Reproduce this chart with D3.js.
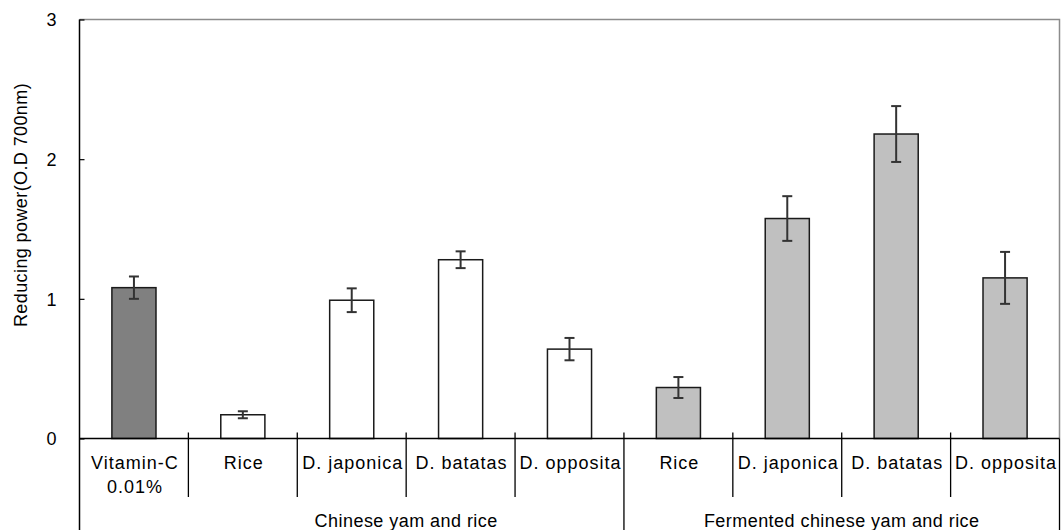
<!DOCTYPE html>
<html>
<head>
<meta charset="utf-8">
<script src="https://cdn.jsdelivr.net/npm/d3@7"></script>
<style>
  body { margin: 0; background: #fff; }
  svg { display: block; font-family: Arial, "Liberation Sans", sans-serif; }
</style>
</head>
<body>
<div id="chart"></div>
<script>
// data
var categories = ['Vitamin-C', 'Rice', 'D. japonica', 'D. batatas', 'D. opposita',
                  'F Rice', 'F D. japonica', 'F D. batatas', 'F D. opposita'];
var catLabels = [['Vitamin-C', '0.01%'], ['Rice'], ['D. japonica'], ['D. batatas'], ['D. opposita'],
                 ['Rice'], ['D. japonica'], ['D. batatas'], ['D. opposita']];
var values = [1.08, 0.17, 0.99, 1.28, 0.64, 0.365, 1.575, 2.18, 1.15];
var errors = [0.08, 0.025, 0.085, 0.06, 0.08, 0.075, 0.16, 0.2, 0.186];
var groups = ['control', 'plain', 'plain', 'plain', 'plain', 'ferm', 'ferm', 'ferm', 'ferm'];
var groupLabels = [
    { name: 'Chinese yam and rice', from: 1, to: 5 },
    { name: 'Fermented chinese yam and rice', from: 5, to: 9 }
];
var yTicks = [0, 1, 2, 3];

var width = 1061, height = 530;
var plotLeft = 79.5, plotRight = 1059.5, plotTop = 19.5, zeroY = 438.5;

var fills = { control: '#808080', plain: '#ffffff', ferm: '#c0c0c0' };

var svg = d3.select('#chart').append('svg')
    .attr('width', width)
    .attr('height', height);

var x = d3.scaleBand()
    .domain(categories)
    .range([plotLeft, plotRight])
    .paddingInner(0.595)
    .paddingOuter(0.2975);

var y = d3.scaleLinear()
    .domain([0, 3])
    .range([zeroY, plotTop]);

var step = x.step();
function edge(i) { return plotLeft + step * i; }

// plot area border (grey)
svg.append('path')
    .attr('d', 'M' + plotLeft + ',' + plotTop + 'H' + plotRight + 'V' + zeroY)
    .attr('fill', 'none')
    .attr('stroke', '#8c8c8c')
    .attr('stroke-width', 1.5);

// y axis
var yAxis = d3.axisLeft(y)
    .tickValues(yTicks)
    .tickSize(-5)
    .tickPadding(23)
    .tickFormat(d3.format('d'));

var gy = svg.append('g')
    .attr('transform', 'translate(' + plotLeft + ',0)')
    .call(yAxis);
gy.select('.domain').remove();
gy.selectAll('.tick line').attr('stroke', '#000').attr('stroke-width', 1.2);
gy.selectAll('.tick text')
    .attr('font-size', 18)
    .attr('fill', '#000')
    .attr('dy', '0.36em');

// left axis line runs to the bottom
svg.append('line')
    .attr('x1', plotLeft).attr('x2', plotLeft)
    .attr('y1', plotTop).attr('y2', height)
    .attr('stroke', '#000').attr('stroke-width', 1.5);

svg.append('text')
    .attr('transform', 'translate(27,205) rotate(-90)')
    .attr('text-anchor', 'middle')
    .attr('font-size', 18)
    .attr('letter-spacing', '0.4px')
    .text('Reducing power(O.D 700nm)');

// bars
svg.selectAll('rect.bar')
    .data(categories)
    .enter()
    .append('rect')
    .attr('class', 'bar')
    .attr('x', function (d) { return x(d); })
    .attr('y', function (d, i) { return y(values[i]); })
    .attr('width', x.bandwidth())
    .attr('height', function (d, i) { return y(0) - y(values[i]); })
    .attr('fill', function (d, i) { return fills[groups[i]]; })
    .attr('stroke', '#1a1a1a')
    .attr('stroke-width', 1.5);

// error bars
var err = svg.selectAll('g.err')
    .data(categories)
    .enter()
    .append('g')
    .attr('class', 'err')
    .attr('stroke', '#333')
    .attr('stroke-width', 2);

err.append('line')
    .attr('x1', function (d) { return x(d) + x.bandwidth() / 2; })
    .attr('x2', function (d) { return x(d) + x.bandwidth() / 2; })
    .attr('y1', function (d, i) { return y(values[i] + errors[i]); })
    .attr('y2', function (d, i) { return y(values[i] - errors[i]); });

[1, -1].forEach(function (s) {
    err.append('line')
        .attr('x1', function (d) { return x(d) + x.bandwidth() / 2 - 5; })
        .attr('x2', function (d) { return x(d) + x.bandwidth() / 2 + 5; })
        .attr('y1', function (d, i) { return y(values[i] + s * errors[i]); })
        .attr('y2', function (d, i) { return y(values[i] + s * errors[i]); });
});

// x axis line
svg.append('line')
    .attr('x1', plotLeft).attr('x2', plotRight)
    .attr('y1', zeroY).attr('y2', zeroY)
    .attr('stroke', '#000').attr('stroke-width', 1.5);

// category separators; group edges run to the bottom
d3.range(1, categories.length + 1).forEach(function (i) {
    var isGroup = (i === 5 || i === 9);
    svg.append('line')
        .attr('x1', edge(i)).attr('x2', edge(i))
        .attr('y1', i === 9 ? zeroY : zeroY - 6)
        .attr('y2', isGroup ? height : 497)
        .attr('stroke', '#000').attr('stroke-width', 1.3);
});

// category labels
catLabels.forEach(function (lines, i) {
    var cx = x(categories[i]) + x.bandwidth() / 2 + 1;
    var t = svg.append('text')
        .attr('y', 469)
        .attr('text-anchor', 'middle')
        .attr('font-size', 18)
        .attr('letter-spacing', '1px');
    lines.forEach(function (l, j) {
        t.append('tspan')
            .attr('x', cx)
            .attr('dy', j === 0 ? 0 : 24)
            .text(l);
    });
});

// group labels
groupLabels.forEach(function (g) {
    svg.append('text')
        .attr('x', (edge(g.from) + edge(g.to)) / 2)
        .attr('y', 527)
        .attr('text-anchor', 'middle')
        .attr('font-size', 18)
        .attr('letter-spacing', '0.45px')
        .text(g.name);
});
</script>
</body>
</html>
